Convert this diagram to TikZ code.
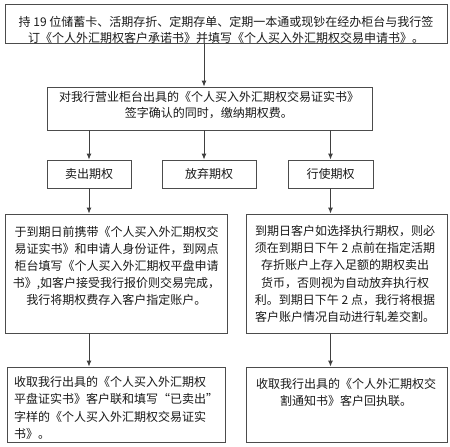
\documentclass[tikz,border=0pt]{standalone}
\usepackage{fontspec}
\setmainfont{Noto Sans CJK SC}
\usetikzlibrary{arrows.meta}

\tikzset{
  box/.style={draw=black!70, line width=0.9pt, inner sep=0pt},
  txt/.style={inner sep=0pt, align=center, text=black!90,
    font=\fontsize{12}{16.3}\selectfont},
  txtlow/.style={txt, font=\fontsize{12}{17.2}\selectfont},
  arr/.style={draw=black!75, line width=0.9pt, -{Latex[length=6pt,width=5pt]}},
}

\begin{document}
\begin{tikzpicture}[x=1pt,y=1pt,yscale=-1]
\useasboundingbox (0,0) rectangle (450,447);

%Boxes
\node[box, minimum width=442, minimum height=39] (apply) at (226,23.5) {};
\node[box, minimum width=325, minimum height=43] (confirm) at (209.5,108.5) {};
\node[box, minimum width=84, minimum height=28] (sell) at (89,174) {};
\node[box, minimum width=94, minimum height=28] (giveup) at (209,174) {};
\node[box, minimum width=85, minimum height=28] (exercise) at (330.5,174) {};
\node[box, minimum width=222, minimum height=119] (sellstep) at (116,273.5) {};
\node[box, minimum width=201, minimum height=119] (exstep) at (346.5,273.5) {};
\node[box, minimum width=218, minimum height=75] (sellend) at (116,404.5) {};
\node[box, minimum width=201, minimum height=75] (exend) at (346.5,404.5) {};

%Texts
\node[txt] (applytxt) at (226,30) {持 19 位储蓄卡、活期存折、定期存单、定期一本通或现钞在经办柜台与我行签\\
订《个人外汇期权客户承诺书》并填写《个人买入外汇期权交易申请书》。};
\node[txt] (confirmtxt) at (209,105) {对我行营业柜台出具的《个人买入外汇期权交易证实书》\\
签字确认的同时，缴纳期权费。};
\node[txt] (selltxt) at (sell) {卖出期权};
\node[txt] (giveuptxt) at (giveup) {放弃期权};
\node[txt] (exercisetxt) at (exercise) {行使期权};
\node[txtlow] (sellsteptxt) at (116.5,266) {于到期日前携带《个人买入外汇期权交\\
易证实书》和申请人身份证件，到网点\\
柜台填写《个人买入外汇期权平盘申请\\
书》,如客户接受我行报价则交易完成，\\
我行将期权费存入客户指定账户。};
\node[txtlow] (exsteptxt) at (345,274) {到期日客户如选择执行期权，则必\\
须在到期日下午 2 点前在指定活期\\
存折账户上存入足额的期权卖出\\
货币，否则视为自动放弃执行权\\
利。到期日下午 2 点，我行将根据\\
客户账户情况自动进行轧差交割。};
\node[txtlow, align=left] (sellendtxt) at (116,408) {收取我行出具的《个人买入外汇期权\\
平盘证实书》客户联和填写“已卖出”\\
字样的《个人买入外汇期权交易证实\\
书》。};
\node[txtlow] (exendtxt) at (346,392.5) {收取我行出具的《个人外汇期权交\\
割通知书》客户回执联。};

%Connectors
\coordinate (mid) at (204,0);
\draw[arr] (apply.south -| mid) -- (confirm.north -| mid);
\draw[arr] (confirm.south -| sell.north) -- (sell.north);
\draw[arr] (confirm.south -| mid) -- (giveup.north -| mid);
\draw[arr] (confirm.south -| exercise.north) -- (exercise.north);
\draw[arr] (sell.south) -- (sellstep.north -| sell.south);
\draw[arr] (exercise.south) -- (exstep.north -| exercise.south);
\draw[arr] (sellstep.south -| sell.south) -- (sellend.north -| sell.south);
\draw[arr] (exstep.south -| exercise.south) -- (exend.north -| exercise.south);

\end{tikzpicture}
\end{document}
